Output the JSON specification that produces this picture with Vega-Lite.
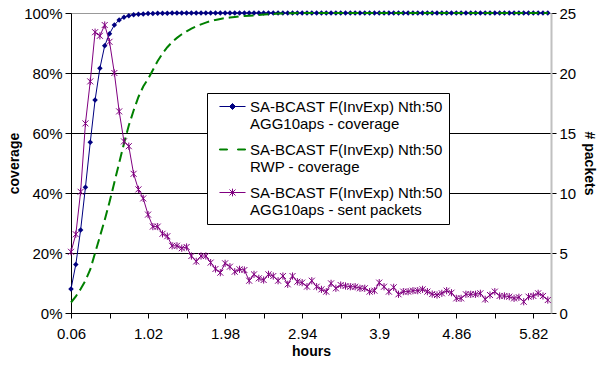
{
"$schema":"https://vega.github.io/schema/vega-lite/v6.json",
"width":480,"height":300,
"autosize":{"type":"none"},
"padding":{"left":71,"top":13,"right":52,"bottom":54},
"background":"white",
"data":{"values":[
{"h":0.06,"s":"a","v":8},{"h":0.06,"s":"r","v":3.5},{"h":0.06,"s":"p","v":5.1},
{"h":0.12,"s":"a","v":16.2},{"h":0.12,"s":"r","v":5.5},{"h":0.12,"s":"p","v":6.56},
{"h":0.18,"s":"a","v":27.7},{"h":0.18,"s":"r","v":8},{"h":0.18,"s":"p","v":10.1},
{"h":0.24,"s":"a","v":41.9},{"h":0.24,"s":"r","v":10.8},{"h":0.24,"s":"p","v":15.8},
{"h":0.3,"s":"a","v":56.9},{"h":0.3,"s":"r","v":14.5},{"h":0.3,"s":"p","v":19.3},
{"h":0.36,"s":"a","v":71},{"h":0.36,"s":"r","v":20},{"h":0.36,"s":"p","v":23.4},
{"h":0.42,"s":"a","v":81.6},{"h":0.42,"s":"r","v":25.5},{"h":0.42,"s":"p","v":23.1},
{"h":0.48,"s":"a","v":89.1},{"h":0.48,"s":"r","v":31},{"h":0.48,"s":"p","v":24.0},
{"h":0.54,"s":"a","v":93.1},{"h":0.54,"s":"r","v":37},{"h":0.54,"s":"p","v":22.6},
{"h":0.6,"s":"a","v":96},{"h":0.6,"s":"r","v":43.5},{"h":0.6,"s":"p","v":20.0},
{"h":0.66,"s":"a","v":97.7},{"h":0.66,"s":"r","v":50},{"h":0.66,"s":"p","v":16.8},
{"h":0.72,"s":"a","v":98.6},{"h":0.72,"s":"r","v":56.5},{"h":0.72,"s":"p","v":14.3},
{"h":0.78,"s":"a","v":99.1},{"h":0.78,"s":"r","v":62.5},{"h":0.78,"s":"p","v":13.9},
{"h":0.84,"s":"a","v":99.4},{"h":0.84,"s":"r","v":67.5},{"h":0.84,"s":"p","v":11.6},
{"h":0.9,"s":"a","v":99.6},{"h":0.9,"s":"r","v":72},{"h":0.9,"s":"p","v":10.3},
{"h":0.96,"s":"a","v":99.7},{"h":0.96,"s":"r","v":75.5},{"h":0.96,"s":"p","v":9.55},
{"h":1.02,"s":"a","v":99.8},{"h":1.02,"s":"r","v":78},{"h":1.02,"s":"p","v":8.2},
{"h":1.08,"s":"a","v":99.85},{"h":1.08,"s":"r","v":81},{"h":1.08,"s":"p","v":7.2},
{"h":1.14,"s":"a","v":99.9},{"h":1.14,"s":"r","v":84},{"h":1.14,"s":"p","v":7.2},
{"h":1.2,"s":"a","v":99.92},{"h":1.2,"s":"r","v":86.5},{"h":1.2,"s":"p","v":6.6},
{"h":1.26,"s":"a","v":99.95},{"h":1.26,"s":"r","v":88.6},{"h":1.26,"s":"p","v":6.4},
{"h":1.32,"s":"a","v":99.97},{"h":1.32,"s":"r","v":90.3},{"h":1.32,"s":"p","v":5.6},
{"h":1.38,"s":"a","v":100},{"h":1.38,"s":"r","v":91.7},{"h":1.38,"s":"p","v":5.6},
{"h":1.44,"s":"a","v":100},{"h":1.44,"s":"r","v":92.9},{"h":1.44,"s":"p","v":5.4},
{"h":1.5,"s":"a","v":100},{"h":1.5,"s":"r","v":93.9},{"h":1.5,"s":"p","v":5.5},
{"h":1.56,"s":"a","v":100},{"h":1.56,"s":"r","v":94.8},{"h":1.56,"s":"p","v":4.75},
{"h":1.62,"s":"a","v":100},{"h":1.62,"s":"r","v":95.6},{"h":1.62,"s":"p","v":4.3},
{"h":1.68,"s":"a","v":100},{"h":1.68,"s":"r","v":96.2},{"h":1.68,"s":"p","v":4.75},
{"h":1.74,"s":"a","v":100},{"h":1.74,"s":"r","v":96.8},{"h":1.74,"s":"p","v":4.75},
{"h":1.8,"s":"a","v":100},{"h":1.8,"s":"r","v":97.3},{"h":1.8,"s":"p","v":4.2},
{"h":1.86,"s":"a","v":100},{"h":1.86,"s":"r","v":97.7},{"h":1.86,"s":"p","v":3.67},
{"h":1.92,"s":"a","v":100},{"h":1.92,"s":"r","v":98},{"h":1.92,"s":"p","v":3.36},
{"h":1.98,"s":"a","v":100},{"h":1.98,"s":"r","v":98.3},{"h":1.98,"s":"p","v":4.14},
{"h":2.04,"s":"a","v":100},{"h":2.04,"s":"r","v":98.5},{"h":2.04,"s":"p","v":3.86},
{"h":2.1,"s":"a","v":100},{"h":2.1,"s":"r","v":98.7},{"h":2.1,"s":"p","v":3.44},
{"h":2.16,"s":"a","v":100},{"h":2.16,"s":"r","v":98.9},{"h":2.16,"s":"p","v":3.64},
{"h":2.22,"s":"a","v":100},{"h":2.22,"s":"r","v":99},{"h":2.22,"s":"p","v":3.58},
{"h":2.28,"s":"a","v":100},{"h":2.28,"s":"r","v":99.1},{"h":2.28,"s":"p","v":2.69},
{"h":2.34,"s":"a","v":100},{"h":2.34,"s":"r","v":99.2},{"h":2.34,"s":"p","v":3.22},
{"h":2.4,"s":"a","v":100},{"h":2.4,"s":"r","v":99.35},{"h":2.4,"s":"p","v":2.89},
{"h":2.46,"s":"a","v":100},{"h":2.46,"s":"r","v":99.5},{"h":2.46,"s":"p","v":2.75},
{"h":2.52,"s":"a","v":100},{"h":2.52,"s":"r","v":99.6},{"h":2.52,"s":"p","v":3.22},
{"h":2.58,"s":"a","v":100},{"h":2.58,"s":"r","v":99.7},{"h":2.58,"s":"p","v":3.08},
{"h":2.64,"s":"a","v":100},{"h":2.64,"s":"r","v":99.8},{"h":2.64,"s":"p","v":2.69},
{"h":2.7,"s":"a","v":100},{"h":2.7,"s":"r","v":99.85},{"h":2.7,"s":"p","v":3.08},
{"h":2.76,"s":"a","v":100},{"h":2.76,"s":"r","v":99.9},{"h":2.76,"s":"p","v":2.39},
{"h":2.82,"s":"a","v":100},{"h":2.82,"s":"r","v":99.95},{"h":2.82,"s":"p","v":3.08},
{"h":2.88,"s":"a","v":100},{"h":2.88,"s":"r","v":100},{"h":2.88,"s":"p","v":2.61},
{"h":2.94,"s":"a","v":100},{"h":2.94,"s":"r","v":100},{"h":2.94,"s":"p","v":2.53},
{"h":3.0,"s":"a","v":100},{"h":3.0,"s":"r","v":100},{"h":3.0,"s":"p","v":2.2},
{"h":3.06,"s":"a","v":100},{"h":3.06,"s":"r","v":100},{"h":3.06,"s":"p","v":2.69},
{"h":3.12,"s":"a","v":100},{"h":3.12,"s":"r","v":100},{"h":3.12,"s":"p","v":2.19},
{"h":3.18,"s":"a","v":100},{"h":3.18,"s":"r","v":100},{"h":3.18,"s":"p","v":1.97},
{"h":3.24,"s":"a","v":100},{"h":3.24,"s":"r","v":100},{"h":3.24,"s":"p","v":1.78},
{"h":3.3,"s":"a","v":100},{"h":3.3,"s":"r","v":100},{"h":3.3,"s":"p","v":2.47},
{"h":3.36,"s":"a","v":100},{"h":3.36,"s":"r","v":100},{"h":3.36,"s":"p","v":2.06},
{"h":3.42,"s":"a","v":100},{"h":3.42,"s":"r","v":100},{"h":3.42,"s":"p","v":2.33},
{"h":3.48,"s":"a","v":100},{"h":3.48,"s":"r","v":100},{"h":3.48,"s":"p","v":2.25},
{"h":3.54,"s":"a","v":100},{"h":3.54,"s":"r","v":100},{"h":3.54,"s":"p","v":2.19},
{"h":3.6,"s":"a","v":100},{"h":3.6,"s":"r","v":100},{"h":3.6,"s":"p","v":2.19},
{"h":3.66,"s":"a","v":100},{"h":3.66,"s":"r","v":100},{"h":3.66,"s":"p","v":2.06},
{"h":3.72,"s":"a","v":100},{"h":3.72,"s":"r","v":100},{"h":3.72,"s":"p","v":2.06},
{"h":3.78,"s":"a","v":100},{"h":3.78,"s":"r","v":100},{"h":3.78,"s":"p","v":1.78},
{"h":3.84,"s":"a","v":100},{"h":3.84,"s":"r","v":100},{"h":3.84,"s":"p","v":1.86},
{"h":3.9,"s":"a","v":100},{"h":3.9,"s":"r","v":100},{"h":3.9,"s":"p","v":2.53},
{"h":3.96,"s":"a","v":100},{"h":3.96,"s":"r","v":100},{"h":3.96,"s":"p","v":2.19},
{"h":4.02,"s":"a","v":100},{"h":4.02,"s":"r","v":100},{"h":4.02,"s":"p","v":1.78},
{"h":4.08,"s":"a","v":100},{"h":4.08,"s":"r","v":100},{"h":4.08,"s":"p","v":2.14},
{"h":4.14,"s":"a","v":100},{"h":4.14,"s":"r","v":100},{"h":4.14,"s":"p","v":1.56},
{"h":4.2,"s":"a","v":100},{"h":4.2,"s":"r","v":100},{"h":4.2,"s":"p","v":1.78},
{"h":4.26,"s":"a","v":100},{"h":4.26,"s":"r","v":100},{"h":4.26,"s":"p","v":1.78},
{"h":4.32,"s":"a","v":100},{"h":4.32,"s":"r","v":100},{"h":4.32,"s":"p","v":1.86},
{"h":4.38,"s":"a","v":100},{"h":4.38,"s":"r","v":100},{"h":4.38,"s":"p","v":1.86},
{"h":4.44,"s":"a","v":100},{"h":4.44,"s":"r","v":100},{"h":4.44,"s":"p","v":1.97},
{"h":4.5,"s":"a","v":100},{"h":4.5,"s":"r","v":100},{"h":4.5,"s":"p","v":1.78},
{"h":4.56,"s":"a","v":100},{"h":4.56,"s":"r","v":100},{"h":4.56,"s":"p","v":1.58},
{"h":4.62,"s":"a","v":100},{"h":4.62,"s":"r","v":100},{"h":4.62,"s":"p","v":1.5},
{"h":4.68,"s":"a","v":100},{"h":4.68,"s":"r","v":100},{"h":4.68,"s":"p","v":1.64},
{"h":4.74,"s":"a","v":100},{"h":4.74,"s":"r","v":100},{"h":4.74,"s":"p","v":1.86},
{"h":4.8,"s":"a","v":100},{"h":4.8,"s":"r","v":100},{"h":4.8,"s":"p","v":1.69},
{"h":4.86,"s":"a","v":100},{"h":4.86,"s":"r","v":100},{"h":4.86,"s":"p","v":1.22},
{"h":4.92,"s":"a","v":100},{"h":4.92,"s":"r","v":100},{"h":4.92,"s":"p","v":1.22},
{"h":4.98,"s":"a","v":100},{"h":4.98,"s":"r","v":100},{"h":4.98,"s":"p","v":1.56},
{"h":5.04,"s":"a","v":100},{"h":5.04,"s":"r","v":100},{"h":5.04,"s":"p","v":1.56},
{"h":5.1,"s":"a","v":100},{"h":5.1,"s":"r","v":100},{"h":5.1,"s":"p","v":1.56},
{"h":5.16,"s":"a","v":100},{"h":5.16,"s":"r","v":100},{"h":5.16,"s":"p","v":1.64},
{"h":5.22,"s":"a","v":100},{"h":5.22,"s":"r","v":100},{"h":5.22,"s":"p","v":1.14},
{"h":5.28,"s":"a","v":100},{"h":5.28,"s":"r","v":100},{"h":5.28,"s":"p","v":1.5},
{"h":5.34,"s":"a","v":100},{"h":5.34,"s":"r","v":100},{"h":5.34,"s":"p","v":1.78},
{"h":5.4,"s":"a","v":100},{"h":5.4,"s":"r","v":100},{"h":5.4,"s":"p","v":1.42},
{"h":5.46,"s":"a","v":100},{"h":5.46,"s":"r","v":100},{"h":5.46,"s":"p","v":1.42},
{"h":5.52,"s":"a","v":100},{"h":5.52,"s":"r","v":100},{"h":5.52,"s":"p","v":1.36},
{"h":5.58,"s":"a","v":100},{"h":5.58,"s":"r","v":100},{"h":5.58,"s":"p","v":1.22},
{"h":5.64,"s":"a","v":100},{"h":5.64,"s":"r","v":100},{"h":5.64,"s":"p","v":1.31},
{"h":5.7,"s":"a","v":100},{"h":5.7,"s":"r","v":100},{"h":5.7,"s":"p","v":0.94},
{"h":5.76,"s":"a","v":100},{"h":5.76,"s":"r","v":100},{"h":5.76,"s":"p","v":1.36},
{"h":5.82,"s":"a","v":100},{"h":5.82,"s":"r","v":100},{"h":5.82,"s":"p","v":1.42},
{"h":5.88,"s":"a","v":100},{"h":5.88,"s":"r","v":100},{"h":5.88,"s":"p","v":1.64},
{"h":5.94,"s":"a","v":100},{"h":5.94,"s":"r","v":100},{"h":5.94,"s":"p","v":1.42},
{"h":6.0,"s":"a","v":100},{"h":6.0,"s":"r","v":100},{"h":6.0,"s":"p","v":1.08}
]},
"encoding":{"x":{"field":"h","type":"quantitative","scale":{"domain":[0.06,6.04],"nice":false,"zero":false},
 "axis":{"values":[0.06,0.54,1.02,1.5,1.98,2.46,2.94,3.42,3.9,4.38,4.86,5.34,5.82],
  "labelExpr":"indexof([0.06,1.02,1.98,2.94,3.9,4.86,5.82], datum.value) >= 0 ? format(datum.value,'~g') : ''",
  "title":"hours","grid":false,"tickSize":5,"domainColor":"#000","tickColor":"#000","labelPadding":8,"titlePadding":3,"labelFlush":false,"labelOverlap":false}}},
"layer":[
 {"encoding":{"y":{"field":"v","type":"quantitative","scale":{"domain":[0,100],"nice":false},
   "axis":{"values":[0,20,40,60,80,100],"labelExpr":"datum.value + '%'","title":"coverage","grid":true,
    "gridColor":{"condition":{"test":"datum.value == 100","value":"#999999"},"value":"#000000"},
    "domainColor":"#000","tickColor":"#000","tickSize":6,"labelPadding":3,"titlePadding":2}}},
  "layer":[
   {"transform":[{"filter":"datum.s == 'a'"}],"mark":{"type":"line","color":"#000080","strokeWidth":1}},
   {"transform":[{"filter":"datum.s == 'a'"}],"mark":{"type":"point","shape":"diamond","filled":true,"color":"#000080","size":30,"opacity":1}},
   {"transform":[{"filter":"datum.s == 'r'"}],"mark":{"type":"line","color":"#008000","strokeWidth":2,"strokeDash":[10,5]}},
   {"transform":[{"filter":"datum.h == 0.06"}],"mark":{"type":"point","filled":true,"opacity":0,"strokeWidth":1},
    "encoding":{
     "fill":{"field":"s","type":"nominal","scale":{"domain":["a","r","p"],"range":["#000080","#008000","#800080"]},
      "legend":{"orient":"none","legendX":136,"legendY":80,"title":null,"fillColor":"#ffffff","strokeColor":"#000000","padding":6,
       "labelFontSize":15,"labelFont":"Liberation Sans","labelColor":"#000","labelLimit":400,"symbolSize":196,"symbolStrokeWidth":1,
       "symbolOpacity":1,"rowPadding":10,"labelOffset":10,"symbolOffset":12,
       "labelExpr":"datum.value == 'a' ? ['SA-BCAST F(InvExp) Nth:50','AGG10aps - coverage'] : datum.value == 'r' ? ['SA-BCAST F(InvExp) Nth:50','RWP - coverage'] : ['SA-BCAST F(InvExp) Nth:50','AGG10aps - sent packets']",
       "encode":{"symbols":{"update":{"opacity":{"value":1},"fillOpacity":{"value":1},"strokeOpacity":{"value":1}}}}}},
     "stroke":{"field":"s","type":"nominal","scale":{"domain":["a","r","p"],"range":["#000080","#008000","#800080"]}},
     "shape":{"field":"s","type":"nominal","scale":{"domain":["a","r","p"],"range":[
       "M-1.86,0H1.86M0,-0.43L0.43,0L0,0.43L-0.43,0Z",
       "M-1.86,-0.07H-0.72V0.07H-1.86ZM0.72,-0.07H1.86V0.07H0.72Z",
       "M-1.86,0H1.86M-0.43,-0.43L0.43,0.43M-0.43,0.43L0.43,-0.43M0,-0.55V0.55"]}}}}
  ]},
 {"encoding":{"y":{"field":"v","type":"quantitative","scale":{"domain":[0,25],"nice":false},
   "axis":{"orient":"right","values":[0,5,10,15,20,25],"title":"# packets","grid":false,"domainColor":"#c0c0c0","domainWidth":2,
    "tickColor":"#000","tickSize":5,"labelPadding":3,"titlePadding":6}}},
  "layer":[
   {"transform":[{"filter":"datum.s == 'p'"}],"mark":{"type":"line","color":"#800080","strokeWidth":1}},
   {"transform":[{"filter":"datum.s == 'p'"}],"mark":{"type":"point","shape":"M-1,-1L1,1M-1,1L1,-1M0,-1.2V1.2","filled":false,"color":"#800080","size":36,"strokeWidth":1,"opacity":1}}
  ]}
],
"resolve":{"scale":{"y":"independent"}},
"config":{"font":"Liberation Sans","view":{"stroke":null},
 "axis":{"labelFont":"Liberation Sans","titleFont":"Liberation Sans","labelFontSize":15,"titleFontSize":14,"labelColor":"#000","titleColor":"#000","titleFontWeight":"bold"}}
}
